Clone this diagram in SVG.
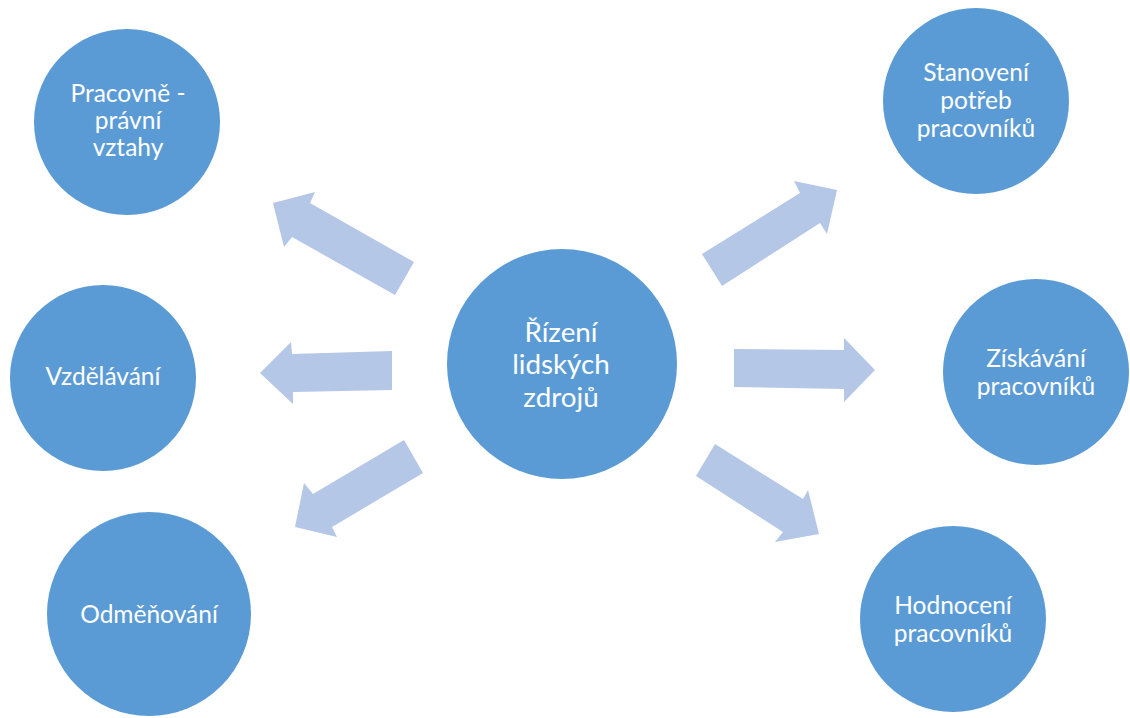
<svg xmlns="http://www.w3.org/2000/svg" width="1130" height="718" viewBox="0 0 1130 718">
<style>
.n{fill:#5b9bd5;}
.a{fill:#b4c7e7;}
.t{font-family:Lato,"Liberation Sans",sans-serif;font-size:24.5px;fill:#ffffff;text-anchor:middle;}
.c{font-size:27.8px;}
</style>
<rect width="1130" height="718" fill="#ffffff"/>
<g id="connectors">
<polygon class="a" points="273,203 315,192 310,203 414,262 395,295 292,237 284,247"/>
<polygon class="a" points="260,373 291,342 292,354 392,351 392,390 293,392 293,404"/>
<polygon class="a" points="295,527 337,537 332,527 423,473 404,440 313,494 304,483"/>
<polygon class="a" points="837,190 794,181 800,193 702,254 722,286 820,223 827,234"/>
<polygon class="a" points="875,370 844,338 844,350 734,349 734,387 844,389 844,402"/>
<polygon class="a" points="819,534 808,490 803,499 715,444 696,476 783,532 775,542"/>
</g>
<g id="center">
<circle class="n" cx="562" cy="364" r="115"/>
<text class="t c" x="561" y="341.5">Řízení</text>
<text class="t c" x="561" y="374">lidských</text>
<text class="t c" x="561" y="406.5">zdrojů</text>
</g>
<g id="pracovne-pravni">
<circle class="n" cx="127" cy="122" r="93"/>
<text class="t" x="128" y="102">Pracovně -</text>
<text class="t" x="128" y="129">právní</text>
<text class="t" x="128" y="156">vztahy</text>
</g>
<g id="vzdelavani">
<circle class="n" cx="103" cy="378" r="93"/>
<text class="t" x="103" y="385">Vzdělávání</text>
</g>
<g id="odmenovani">
<circle class="n" cx="149" cy="614" r="102"/>
<text class="t" x="149" y="623">Odměňování</text>
</g>
<g id="stanoveni">
<circle class="n" cx="976" cy="101" r="93"/>
<text class="t" x="976" y="81">Stanovení</text>
<text class="t" x="976" y="109">potřeb</text>
<text class="t" x="976" y="137">pracovníků</text>
</g>
<g id="ziskavani">
<circle class="n" cx="1036" cy="372" r="93"/>
<text class="t" x="1036" y="367">Získávání</text>
<text class="t" x="1036" y="395">pracovníků</text>
</g>
<g id="hodnoceni">
<circle class="n" cx="953" cy="619" r="93"/>
<text class="t" x="953" y="614">Hodnocení</text>
<text class="t" x="953" y="642">pracovníků</text>
</g>
</svg>
